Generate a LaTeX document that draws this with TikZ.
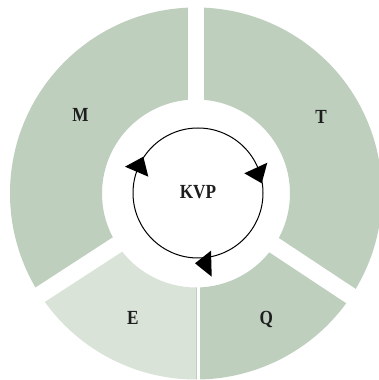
\documentclass[tikz,border=0pt]{standalone}
\usepackage{fontspec}
\newfontfamily\labfont[FakeStretch=0.86]{Liberation Serif}
\usetikzlibrary{calc}
\definecolor{segdark}{RGB}{190,207,190}
\definecolor{seglight}{RGB}{217,227,216}
\definecolor{txt}{RGB}{30,30,30}
\tikzset{
  lab/.style={font=\labfont\bfseries\fontsize{20}{20}\selectfont, text=txt, anchor=base, inner sep=0pt},
  gapline/.style={draw=white, line width=17pt},
  arrowtri/.style={fill=black, draw=none}
}
\begin{document}
\begin{tikzpicture}[x=1pt,y=1pt]
\useasboundingbox (0,0) rectangle (379,380);
\clip (0,0) rectangle (379,380);
\fill[white] (0,0) rectangle (379,380);
\coordinate (C) at (196,186.5);
\def\Ro{186pt}
\def\Ri{94pt}
% sectors
\fill[segdark] ($(C)+(-33:\Ro)$) arc[start angle=-33, end angle=90, radius=\Ro] -- ($(C)+(90:\Ri)$) arc[start angle=90, end angle=-33, radius=\Ri] -- cycle;
\fill[segdark] ($(C)+(90:\Ro)$) arc[start angle=90, end angle=213, radius=\Ro] -- ($(C)+(213:\Ri)$) arc[start angle=213, end angle=90, radius=\Ri] -- cycle;
\fill[seglight] ($(C)+(213:\Ro)$) arc[start angle=213, end angle=270, radius=\Ro] -- ($(C)+(270:\Ri)$) arc[start angle=270, end angle=213, radius=\Ri] -- cycle;
\fill[segdark] ($(C)+(270:\Ro)$) arc[start angle=270, end angle=327, radius=\Ro] -- ($(C)+(327:\Ri)$) arc[start angle=327, end angle=270, radius=\Ri] -- cycle;
% gaps
\coordinate (Ctop) at (195.8,186.5);
\draw[line width=16.3pt, white] (Ctop) -- ++(90:200pt);
\draw[gapline] (C) -- ++(-33.5:200pt);
\draw[gapline] (C) -- ++(213:200pt);
\coordinate (Cbot) at (198.3,186.5);
\draw[line width=2.7pt, white] (Cbot) -- ++(270:200pt);
% cycle circle
\coordinate (K) at (198,187);
\draw[line width=1pt, black] (K) circle[radius=65pt];
\fill[arrowtri] (125,213.3) -- (143.3,223.3) -- (148.3,203.3) -- cycle;
\fill[arrowtri] (244.3,206.7) -- (267.3,217.3) -- (261.7,196.7) -- cycle;
\fill[arrowtri] (195,116.7) -- (211,129.3) -- (211.7,103.3) -- cycle;
% labels
\node[lab] (m) at (80.5,258) {M};
\node[lab] (t) at (321,256) {T};
\node[lab] (e) at (132.8,55) {E};
\node[lab] (q) at (266.3,55) {Q};
\node[lab] (kvp) at (198,181) {KVP};
\end{tikzpicture}
\end{document}
